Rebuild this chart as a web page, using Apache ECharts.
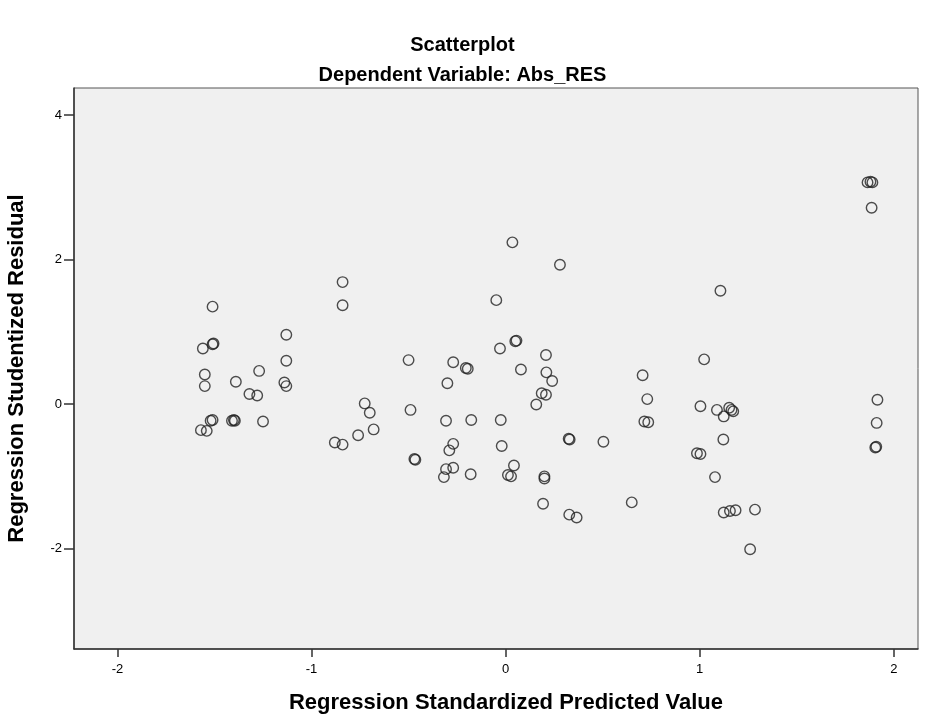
<!DOCTYPE html>
<html>
<head>
<meta charset="utf-8">
<script src="https://cdn.jsdelivr.net/npm/echarts@6/dist/echarts.min.js"></script>
<style>
html,body{margin:0;padding:0;background:#fff;}
#chart{width:925px;height:715px;}
</style>
</head>
<body>
<div id="chart"></div>
<script>
const titleMain = "Scatterplot";
const titleSub = "Dependent Variable: Abs_RES";
const xName = "Regression Standardized Predicted Value";
const yName = "Regression Studentized Residual";
const xTicks = [-2, -1, 0, 1, 2];
const yTicks = [-2, 0, 2, 4];

const xValues = [
  -1.51, -0.84, -1.13, -1.56, -1.51, -1.505, -1.13, -1.55, -1.55, -1.39,
  -1.27, -1.32, -1.28, -1.14, -1.13, -1.52, -1.51, -1.41, -1.40, -1.395,
  -1.57, -1.54, -1.25, -0.88, -0.84, -0.76, -0.726, -0.70, -0.68, -0.84,
  0.035, 0.28, -0.048, 0.05, 0.056, -0.029, 0.208, 0.079, 0.21, 0.24,
  0.186, 0.208, 0.158, -0.50, -0.27, -0.205, -0.195, -0.30, 0.706, 0.73,
  0.715, 0.735, -0.49, -0.307, -0.177, -0.025, -0.27, -0.29, -0.02, -0.47,
  -0.465, -0.307, -0.27, -0.318, -0.18, 0.043, 0.012, 0.028, 0.325, 0.33,
  0.504, 0.20, 0.20, 0.193, 0.328, 0.366, 0.65, 1.107, 1.023, 1.004,
  1.089, 1.152, 1.164, 1.173, 1.124, 1.122, 0.986, 1.004, 1.916, 1.912,
  1.91, 1.905, 1.079, 1.124, 1.156, 1.185, 1.285, 1.26, 1.865, 1.88,
  1.89, 1.886
];
const yValues = [
  1.35, 1.37, 0.96, 0.77, 0.83, 0.84, 0.60, 0.41, 0.25, 0.31,
  0.46, 0.14, 0.12, 0.30, 0.25, -0.23, -0.22, -0.23, -0.22, -0.23,
  -0.36, -0.37, -0.24, -0.53, -0.56, -0.43, 0.01, -0.12, -0.35, 1.69,
  2.24, 1.93, 1.44, 0.87, 0.88, 0.77, 0.68, 0.48, 0.44, 0.32,
  0.15, 0.13, -0.005, 0.61, 0.58, 0.50, 0.49, 0.29, 0.40, 0.07,
  -0.24, -0.25, -0.08, -0.23, -0.22, -0.22, -0.55, -0.64, -0.58, -0.76,
  -0.77, -0.90, -0.88, -1.01, -0.97, -0.85, -0.98, -1.00, -0.48, -0.49,
  -0.52, -1.00, -1.03, -1.38, -1.53, -1.57, -1.36, 1.57, 0.62, -0.03,
  -0.08, -0.05, -0.08, -0.10, -0.17, -0.49, -0.68, -0.69, 0.06, -0.26,
  -0.59, -0.60, -1.01, -1.50, -1.48, -1.47, -1.46, -2.01, 3.07, 3.08,
  3.07, 2.72
];

const points = xValues.map((x, i) => [x, yValues[i]]);
const font = "'Liberation Sans', Arial, sans-serif";

const chart = echarts.init(document.getElementById('chart'), null, {renderer: 'canvas'});
chart.setOption({
  animation: false,
  backgroundColor: '#ffffff',
  title: [
    {text: titleMain, left: 'center', top: 30,
     textStyle: {fontFamily: font, fontSize: 20, fontWeight: 'bold', color: '#000'}},
    {text: titleSub, left: 'center', top: 60,
     textStyle: {fontFamily: font, fontSize: 20, fontWeight: 'bold', color: '#000'}}
  ],
  grid: {
    left: 74, right: 7, top: 88, bottom: 66,
    outerBoundsMode: 'none', containLabel: false,
    show: true, backgroundColor: '#f0f0f0', borderColor: '#555', borderWidth: 1
  },
  xAxis: {
    type: 'value', min: -2.224, max: 2.125,
    name: xName, nameLocation: 'middle', nameGap: 43,
    nameTextStyle: {fontFamily: font, fontSize: 22, fontWeight: 'bold', color: '#000', padding: [0, 0, 0, 20]},
    axisLine: {show: true, onZero: false, lineStyle: {color: '#333', width: 1.5}},
    axisTick: {show: true, inside: false, length: 8, customValues: xTicks, lineStyle: {color: '#333', width: 1.5}},
    axisLabel: {customValues: xTicks, fontFamily: font, fontSize: 13, color: '#000', margin: 14},
    splitLine: {show: false}
  },
  yAxis: {
    type: 'value', min: -3.39, max: 4.377,
    name: yName, nameLocation: 'middle', nameGap: 46, nameRotate: 90,
    nameTextStyle: {fontFamily: font, fontSize: 22, fontWeight: 'bold', color: '#000'},
    axisLine: {show: true, onZero: false, lineStyle: {color: '#333', width: 1.5}},
    axisTick: {show: true, inside: false, length: 10, customValues: yTicks, lineStyle: {color: '#333', width: 1.5}},
    axisLabel: {customValues: yTicks, fontFamily: font, fontSize: 13, color: '#000', margin: 12},
    splitLine: {show: false}
  },
  series: [{
    type: 'scatter',
    data: points,
    symbol: 'circle',
    symbolSize: 10.5,
    itemStyle: {color: 'rgba(0,0,0,0)', borderColor: '#222', borderWidth: 1.4}
  }]
});
</script>
</body>
</html>
